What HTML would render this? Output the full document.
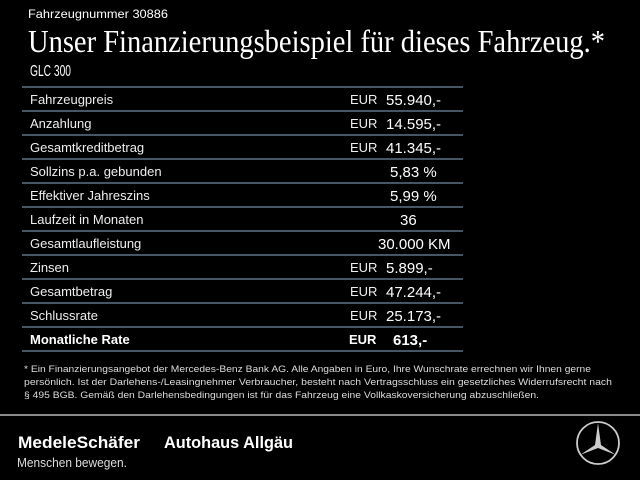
<!DOCTYPE html>
<html><head><meta charset="utf-8"><style>html,body{margin:0;padding:0;background:#000}svg{display:block}</style></head><body>
<svg width="640" height="480" viewBox="0 0 640 480" xmlns="http://www.w3.org/2000/svg" font-family="Liberation Sans, sans-serif" fill="#fff">
<rect width="640" height="480" fill="#000"/>
<text x="28" y="18" font-size="12" textLength="140" lengthAdjust="spacingAndGlyphs">Fahrzeugnummer 30886</text>
<text x="28" y="52" font-family="Liberation Serif, serif" font-size="32" textLength="577" lengthAdjust="spacingAndGlyphs">Unser Finanzierungsbeispiel für dieses Fahrzeug.*</text>
<text x="30" y="76" font-size="16" textLength="41" lengthAdjust="spacingAndGlyphs">GLC 300</text>
<g stroke="#5d7385" stroke-width="1.5">
<line x1="22" x2="463" y1="87" y2="87"/><line x1="22" x2="463" y1="111" y2="111"/><line x1="22" x2="463" y1="135" y2="135"/><line x1="22" x2="463" y1="159" y2="159"/><line x1="22" x2="463" y1="183" y2="183"/><line x1="22" x2="463" y1="207" y2="207"/><line x1="22" x2="463" y1="231" y2="231"/><line x1="22" x2="463" y1="255" y2="255"/><line x1="22" x2="463" y1="279" y2="279"/><line x1="22" x2="463" y1="303" y2="303"/><line x1="22" x2="463" y1="327" y2="327"/><line x1="22" x2="463" y1="351" y2="351"/>
</g>
<g font-size="13" fill="#eee">
<text x="30" y="104">Fahrzeugpreis</text>
<text x="30" y="128">Anzahlung</text>
<text x="30" y="152">Gesamtkreditbetrag</text>
<text x="30" y="176">Sollzins p.a. gebunden</text>
<text x="30" y="200">Effektiver Jahreszins</text>
<text x="30" y="224">Laufzeit in Monaten</text>
<text x="30" y="248">Gesamtlaufleistung</text>
<text x="30" y="272">Zinsen</text>
<text x="30" y="296">Gesamtbetrag</text>
<text x="30" y="320">Schlussrate</text>
<text x="30" y="344" font-weight="bold" fill="#fff">Monatliche Rate</text>
</g>
<g font-size="13" fill="#eee">
<text x="350" y="104">EUR</text><text x="350" y="128">EUR</text><text x="350" y="152">EUR</text>
<text x="350" y="272">EUR</text><text x="350" y="296">EUR</text><text x="350" y="320">EUR</text>
<text x="349" y="344" font-weight="bold" fill="#fff">EUR</text>
</g>
<g font-size="15">
<text x="386" y="105">55.940,-</text>
<text x="386" y="129">14.595,-</text>
<text x="386" y="153">41.345,-</text>
<text x="390" y="177">5,83 %</text>
<text x="390" y="201">5,99 %</text>
<text x="400" y="225">36</text>
<text x="378" y="249">30.000 KM</text>
<text x="386" y="273">5.899,-</text>
<text x="386" y="297">47.244,-</text>
<text x="386" y="321">25.173,-</text>
<text x="393" y="345" font-weight="bold">613,-</text>
</g>
<g font-size="9.5" fill="#ddd">
<text x="24" y="372" textLength="567" lengthAdjust="spacingAndGlyphs">* Ein Finanzierungsangebot der Mercedes-Benz Bank AG. Alle Angaben in Euro, Ihre Wunschrate errechnen wir Ihnen gerne</text>
<text x="24" y="385" textLength="588" lengthAdjust="spacingAndGlyphs">persönlich. Ist der Darlehens-/Leasingnehmer Verbraucher, besteht nach Vertragsschluss ein gesetzliches Widerrufsrecht nach</text>
<text x="24" y="398" textLength="515" lengthAdjust="spacingAndGlyphs">§ 495 BGB. Gemäß den Darlehensbedingungen ist für das Fahrzeug eine Vollkaskoversicherung abzuschließen.</text>
</g>
<rect x="0" y="414" width="640" height="2" fill="#8a8a8a"/>
<text x="18" y="448" font-size="17" font-weight="bold" textLength="122" lengthAdjust="spacingAndGlyphs">MedeleSchäfer</text>
<text x="164" y="448" font-size="17" font-weight="bold" textLength="129" lengthAdjust="spacingAndGlyphs">Autohaus Allgäu</text>
<text x="17" y="467" font-size="12.5" fill="#ddd" textLength="110" lengthAdjust="spacingAndGlyphs">Menschen bewegen.</text>
<g stroke="#ccc" fill="none" stroke-width="1.8">
<circle cx="598" cy="443" r="21"/>
</g>
<path d="M598 423 L601 445 L616 455 L598 448 L580 455 L595 445 Z" fill="#ccc"/>
</svg>
</body></html>
